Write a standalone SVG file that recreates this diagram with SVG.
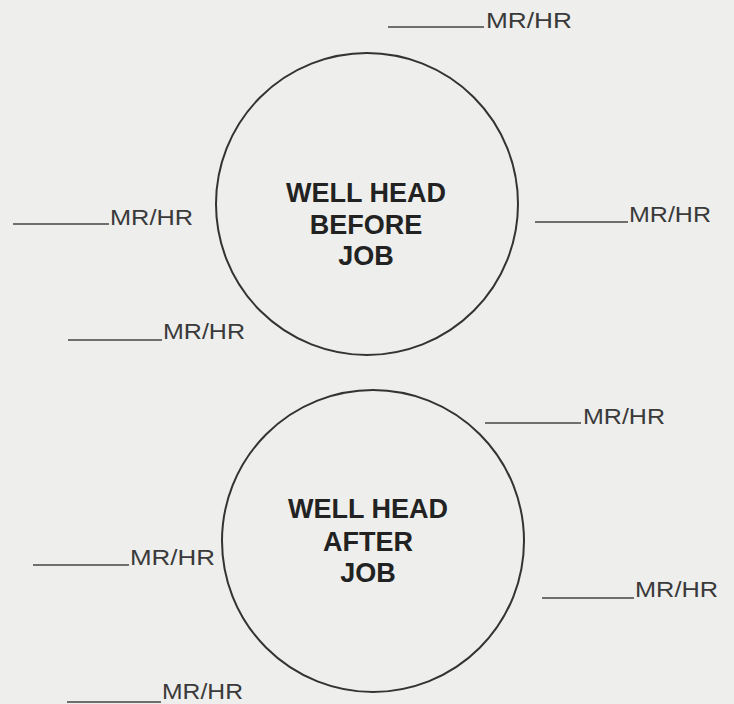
<svg xmlns="http://www.w3.org/2000/svg" width="734" height="704" viewBox="0 0 734 704">
<style>
.bg{fill:#eeeeec}
.ring{fill:none;stroke:#333;stroke-width:2}
.blank{stroke:#444;stroke-width:1.6}
.lbl{font-family:"Liberation Sans",Arial,sans-serif;font-size:22px;fill:#3a3a3a}
.title{font-family:"Liberation Sans",Arial,sans-serif;font-size:27px;font-weight:bold;fill:#222;text-anchor:middle}
</style>
<rect class="bg" x="0" y="0" width="734" height="704"/>
<g id="before">
<circle class="ring" cx="367" cy="204" r="151"/>
<text class="title" x="366" y="202">WELL HEAD</text>
<text class="title" x="366" y="234">BEFORE</text>
<text class="title" x="366" y="265">JOB</text>
</g>
<g id="after">
<circle class="ring" cx="373" cy="541" r="151"/>
<text class="title" x="368" y="518">WELL HEAD</text>
<text class="title" x="368" y="551">AFTER</text>
<text class="title" x="368" y="582">JOB</text>
</g>
<g id="readings">
<line class="blank" x1="388" y1="27" x2="484" y2="27"/>
<text class="lbl" x="486" y="28" textLength="86" lengthAdjust="spacingAndGlyphs">MR/HR</text>
<line class="blank" x1="13" y1="224" x2="109" y2="224"/>
<text class="lbl" x="110" y="225" textLength="83" lengthAdjust="spacingAndGlyphs">MR/HR</text>
<line class="blank" x1="68" y1="340" x2="162" y2="340"/>
<text class="lbl" x="163" y="339" textLength="82" lengthAdjust="spacingAndGlyphs">MR/HR</text>
<line class="blank" x1="535" y1="222" x2="628" y2="222"/>
<text class="lbl" x="629" y="222" textLength="82" lengthAdjust="spacingAndGlyphs">MR/HR</text>
<line class="blank" x1="485" y1="423" x2="581" y2="423"/>
<text class="lbl" x="583" y="424" textLength="82" lengthAdjust="spacingAndGlyphs">MR/HR</text>
<line class="blank" x1="33" y1="565" x2="129" y2="565"/>
<text class="lbl" x="130" y="565" textLength="85" lengthAdjust="spacingAndGlyphs">MR/HR</text>
<line class="blank" x1="542" y1="598" x2="634" y2="598"/>
<text class="lbl" x="635" y="597" textLength="83" lengthAdjust="spacingAndGlyphs">MR/HR</text>
<line class="blank" x1="67" y1="702" x2="161" y2="702"/>
<text class="lbl" x="162" y="699" textLength="81" lengthAdjust="spacingAndGlyphs">MR/HR</text>
</g>
</svg>
